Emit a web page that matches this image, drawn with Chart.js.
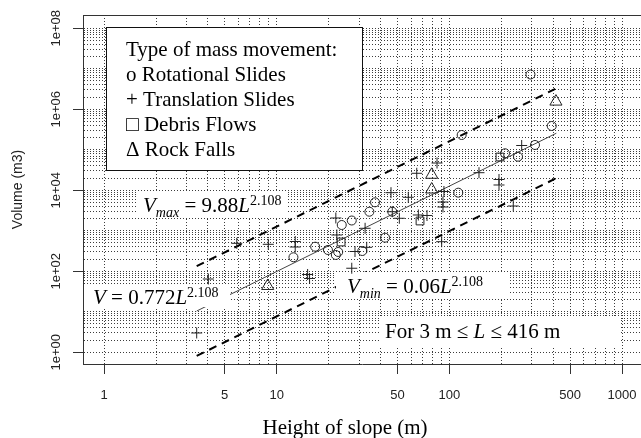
<!DOCTYPE html>
<html>
<head>
<meta charset="utf-8">
<script src="https://cdn.jsdelivr.net/npm/chart.js@4/dist/chart.umd.min.js"></script>
<style>
  html, body { margin: 0; padding: 0; background: #fff; }
  canvas { display: block; }
</style>
</head>
<body>
<canvas id="chart" width="641" height="438"></canvas>
<script>
// Height of slope L (m) and volume V (m3) for each type of mass movement
const rotationalL = [12.5, 16.7, 19.8, 22.0, 22.7, 23.8, 27.2, 31.3, 34.4, 37.1, 42.4, 46.7, 112.6, 117.8, 209.9, 249.6, 294.8, 313.1, 391.3];
const rotationalV = [222, 405, 336, 253, 300, 1390, 1795, 317, 2960, 5050, 676, 2960, 8730, 232000, 82000, 67600, 7230000, 131500, 387000];

const translationL = [3.44, 4.02, 5.87, 8.94, 12.8, 12.8, 15.1, 15.5, 22.0, 22.3, 27.2, 28.4, 32.5, 33.2, 45.9, 46.7, 51.3, 57.8, 64.7, 66.1, 74.2, 84.8, 90.2, 91.8, 91.8, 93.0, 148.4, 193.8, 193.8, 234.4, 262.2];
const translationV = [3.0, 64.5, 491, 464, 544, 398, 83.4, 66.4, 2070, 788, 119, 308, 1153, 391, 8730, 2960, 2036, 6714, 26300, 2455, 2387, 47200, 538, 3870, 5140, 9340, 27200, 18490, 13520, 4095, 127700];

const debrisL = [23.6, 67.6, 196.3];
const debrisV = [529, 1746, 66400];

const rockfallL = [8.87, 79.0, 79.0, 414];
const rockfallV = [43.4, 24150, 10470, 1550000];

// Power laws V = a * L^b written on the plot: [a, b]
const fitLaw = [0.772, 2.108];
const maxLaw = [9.88, 2.108];
const minLaw = [0.06, 2.108];
const lawHeights = [3.44, 416];

// Axes
const xLimits = [0.7555, 1287];
const yLimits = [0.514, 2.13e8];
const xGridDecades = [1, 10, 100];      // grid at 1..9 x decade, up to 1000
const yGridDecades = [1, 10, 100, 1e3, 1e4, 1e5, 1e6, 1e7];
const xTickLabels = [1, 5, 10, 50, 100, 500, 1000];
const yTickLabels = [1, 1e2, 1e4, 1e6, 1e8];

const toPoints = (xs, ys) => xs.map((x, i) => ({ x, y: ys[i] }));
const lawPoints = (law) => lawHeights.map(L => ({ x: L, y: law[0] * Math.pow(L, law[1]) }));

function gridValues(decades, top) {
  const vals = [];
  decades.forEach(d => { for (let m = 1; m <= 9; m++) vals.push(m * d); });
  vals.push(top);
  return vals;
}
const sameValue = (a, b) => Math.abs(Math.log10(a) - Math.log10(b)) < 1e-9;
const isLabelled = (list, v) => list.some(t => sameValue(t, v));
const yFormat = v => '1e+' + String(Math.round(Math.log10(v))).padStart(2, '0');

const ink = '#222';
const gridInk = '#3c3c3c';
const serif = '"Liberation Serif", "Times New Roman", serif';
const sans = '"Liberation Sans", Arial, sans-serif';

// Text drawn on the plot: legend box, equation labels, axis title
const legendBox = { x: 106, y: 27, w: 256, h: 143 };
const legendLines = [
  ['Type of mass movement:', 126, 56],
  ['o Rotational Slides', 126, 81],
  ['+ Translation Slides', 126, 106],
  ['\u25A1 Debris Flows', 126, 131],
  ['\u0394 Rock Falls', 126, 156]
];
const equationLabels = [
  { box: [138, 192, 148, 26], x: 143, y: 212,
    parts: [['V', 'i'], ['max', 'sub'], [' = 9.88', ''], ['L', 'i'], ['2.108', 'sup']] },
  { box: [84, 284, 146, 23], x: 93, y: 304,
    parts: [['V', 'i'], [' = 0.772', ''], ['L', 'i'], ['2.108', 'sup']] },
  { box: [336, 272, 174, 26], x: 347, y: 293,
    parts: [['V', 'i'], ['min', 'sub'], [' = 0.06', ''], ['L', 'i'], ['2.108', 'sup']] },
  { box: [380, 318, 240, 29], x: 385, y: 338,
    parts: [['For 3 m \u2264 ', ''], ['L', 'i'], [' \u2264 416 m', '']] }
];
const xTitle = { text: 'Height of slope (m)', x: 345, y: 434 };

function drawRich(ctx, x, y, parts) {
  let cx = x;
  for (const [text, kind] of parts) {
    let size = 21, dy = 0, italic = kind === 'i';
    if (kind === 'sub') { size = 14; dy = 5; italic = true; }
    if (kind === 'sup') { size = 14; dy = -7; }
    ctx.font = (italic ? 'italic ' : '') + size + 'px ' + serif;
    ctx.fillText(text, cx, y + dy);
    cx += ctx.measureText(text).width;
  }
}

const notesPlugin = {
  id: 'notes',
  afterDatasetDraw(chart, args) {
    if (!chart.data.datasets[args.index].notesAfter) return;
    const ctx = chart.ctx;
    ctx.save();
    ctx.textBaseline = 'alphabetic';
    ctx.textAlign = 'left';
    // legend
    ctx.fillStyle = '#fff';
    ctx.fillRect(legendBox.x, legendBox.y, legendBox.w, legendBox.h);
    ctx.strokeStyle = '#111';
    ctx.lineWidth = 1;
    ctx.strokeRect(legendBox.x + 0.5, legendBox.y + 0.5, legendBox.w, legendBox.h);
    ctx.fillStyle = '#000';
    ctx.font = '21px ' + serif;
    legendLines.forEach(([t, x, y]) => ctx.fillText(t, x, y));
    // equations
    equationLabels.forEach(lab => {
      ctx.fillStyle = '#fff';
      ctx.fillRect(lab.box[0], lab.box[1], lab.box[2], lab.box[3]);
      ctx.fillStyle = '#000';
      drawRich(ctx, lab.x, lab.y, lab.parts);
    });
    ctx.restore();
  },
  afterDraw(chart) {
    const ctx = chart.ctx;
    const a = chart.chartArea;
    ctx.save();
    // upper side of the plot frame
    ctx.strokeStyle = '#333';
    ctx.lineWidth = 1;
    ctx.beginPath();
    ctx.moveTo(a.left, a.top + 0.5);
    ctx.lineTo(a.right, a.top + 0.5);
    ctx.stroke();
    ctx.fillStyle = '#000';
    ctx.font = '21px ' + serif;
    ctx.textAlign = 'center';
    ctx.textBaseline = 'alphabetic';
    ctx.fillText(xTitle.text, xTitle.x, xTitle.y);
    ctx.restore();
  }
};

const pointSet = (label, xs, ys, style, radius, order) => ({
  label, data: toPoints(xs, ys), order,
  pointStyle: style, pointRadius: radius, pointHoverRadius: radius,
  pointBorderColor: ink, pointBackgroundColor: 'rgba(0,0,0,0)', pointBorderWidth: 1
});
const lineSet = (label, law, color, width, dash, order, extra) => Object.assign({
  label, data: lawPoints(law), order, showLine: true,
  borderColor: color, borderWidth: width, borderDash: dash,
  pointRadius: 0, pointHoverRadius: 0, fill: false
}, extra || {});

function logAxis(limits, decades, top, labels, extra) {
  return Object.assign({
    type: 'logarithmic',
    min: limits[0], max: limits[1],
    bounds: 'data',
    afterBuildTicks(scale) {
      scale.ticks = gridValues(decades, top).map(v => ({ value: v }));
      scale.min = limits[0];
      scale.max = limits[1];
    },
    grid: {
      color: gridInk, lineWidth: 1, drawTicks: true, tickLength: 10,
      tickColor: c => (c.tick && isLabelled(labels, c.tick.value)) ? '#333' : 'rgba(0,0,0,0)',
      tickBorderDash: []
    },
    border: { display: true, color: '#333', width: 1, dash: [1, 2] }
  }, extra);
}

new Chart(document.getElementById('chart'), {
  type: 'scatter',
  data: {
    datasets: [
      pointSet('Rotational Slides', rotationalL, rotationalV, 'circle', 4.5, 3),
      pointSet('Translation Slides', translationL, translationV, 'cross', 5.5, 2),
      pointSet('Debris Flows', debrisL, debrisV, 'rect', 5.5, 1),
      pointSet('Rock Falls', rockfallL, rockfallV, 'triangle', 7, 0),
      lineSet('Vmax', maxLaw, '#000', 2, [8, 6], 12),
      lineSet('V', fitLaw, '#444', 1, [], 11),
      lineSet('Vmin', minLaw, '#000', 2, [8, 6], 10, { notesAfter: true })
    ]
  },
  options: {
    responsive: false,
    devicePixelRatio: 1,
    animation: false,
    events: [],
    layout: { autoPadding: false, padding: { top: 15, left: 0, right: 0, bottom: 0 } },
    plugins: { legend: { display: false }, tooltip: { enabled: false } },
    scales: {
      x: logAxis(xLimits, xGridDecades, 1000, xTickLabels, {
        position: 'bottom',
        afterFit(scale) { scale.height = 74; scale.paddingLeft = 0; scale.paddingRight = 0; },
        ticks: {
          autoSkip: false, minRotation: 0, maxRotation: 0, padding: 0, color: '#222',
          font: { family: sans, size: 13, lineHeight: 3.3 },
          callback: v => isLabelled(xTickLabels, v) ? String(Math.round(v)) : ''
        }
      }),
      y: logAxis(yLimits, yGridDecades, 1e8, yTickLabels, {
        position: 'left',
        afterFit(scale) { scale.width = 83; scale.paddingTop = 0; scale.paddingBottom = 0; },
        ticks: {
          autoSkip: false, minRotation: 90, maxRotation: 90, crossAlign: 'center', padding: -2,
          color: '#222', font: { family: sans, size: 13 },
          callback: v => isLabelled(yTickLabels, v) ? yFormat(v) : ''
        },
        title: {
          display: true, text: 'Volume (m3)', color: '#222',
          font: { family: sans, size: 14 }, padding: { top: 10, bottom: 0 }
        }
      })
    }
  },
  plugins: [notesPlugin]
});
</script>
</body>
</html>
